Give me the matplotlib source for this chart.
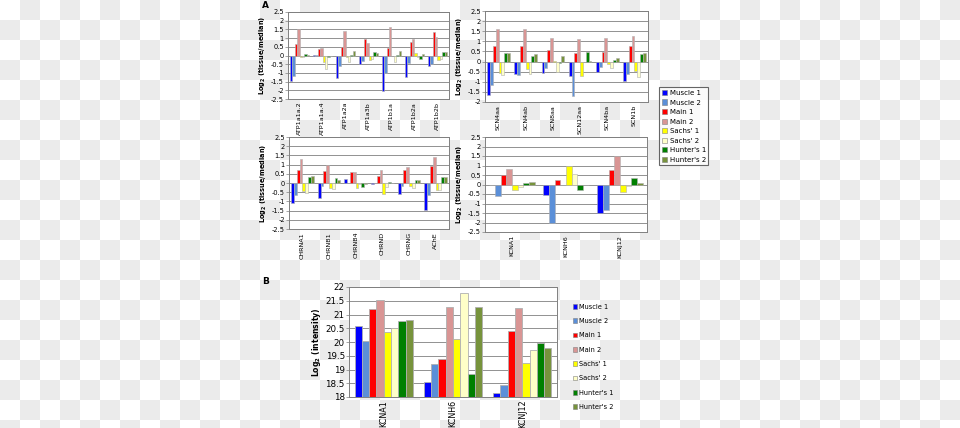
import numpy as np
import matplotlib
matplotlib.use("Agg")
import matplotlib.pyplot as plt
from matplotlib.patches import Patch

plt.rcParams["axes.unicode_minus"] = False
plt.rcParams["font.family"] = ["DejaVu Sans"]

# --- series names and colours ---
series = ["Muscle 1", "Muscle 2", "Main 1", "Main 2", "Sachs' 1", "Sachs' 2", "Hunter's 1", "Hunter's 2"]
colors = ["#0000ff", "#5b8fd8", "#ff0000", "#d99594", "#ffff00", "#ffffc8", "#008000", "#77933c"]

# --- panel A, top left: ATPases ---
atp_genes = ["ATP1a1a.2", "ATP1a1a.4", "ATP1a2a", "ATP1a3b", "ATP1b1a", "ATP1b2a", "ATP1b2b"]
atp_vals = [
    [-1.45, -1.20, 0.65, 1.50, -0.10, -0.10, 0.07, 0.05],
    [0.02, 0.05, 0.35, 0.45, -0.35, -0.80, -0.10, -0.05],
    [-1.30, -0.60, 0.50, 1.40, -0.10, -0.35, 0.05, 0.28],
    [-0.50, -0.30, 0.95, 0.70, -0.25, -0.20, 0.18, 0.12],
    [-2.05, -1.00, 0.42, 1.65, 0.00, -0.35, 0.05, 0.25],
    [-1.25, -0.45, 0.80, 0.92, 0.15, -0.10, -0.20, 0.10],
    [-0.60, -0.50, 1.35, 1.05, -0.25, -0.20, 0.20, 0.18],
]

# --- panel A, top right: sodium channels ---
scn_genes = ["SCN4aa", "SCN4ab", "SCN8aa", "SCN12aa", "SCN4ba", "SCN1b"]
scn_vals = [
    [-1.65, -1.15, 0.75, 1.60, -0.55, -0.65, 0.40, 0.42],
    [-0.60, -0.68, 0.78, 1.60, -0.35, -0.60, 0.28, 0.38],
    [-0.55, -0.30, 0.57, 1.15, 0.03, -0.50, -0.07, 0.25],
    [-0.70, -1.68, 0.43, 1.10, -0.70, 0.00, 0.48, 0.03],
    [-0.50, -0.25, 0.48, 1.15, -0.12, -0.30, 0.10, 0.18],
    [-0.98, -0.60, 0.78, 1.27, -0.45, -0.77, 0.35, 0.40],
]

# --- panel A, bottom left: acetylcholine receptors ---
chrn_genes = ["CHRNA1", "CHRNB1", "CHRNB4", "CHRND", "CHRNG", "AChE"]
chrn_vals = [
    [-1.10, -0.65, 0.70, 1.30, -0.45, -0.52, 0.35, 0.38],
    [-0.80, -0.17, 0.67, 1.00, -0.28, -0.35, 0.25, 0.15],
    [0.20, 0.02, 0.62, 0.60, -0.25, -0.05, -0.20, -0.05],
    [-0.05, 0.00, 0.38, 0.73, -0.60, -0.22, 0.05, 0.02],
    [-0.62, -0.15, 0.70, 0.85, -0.15, -0.25, 0.15, 0.15],
    [-1.48, -0.65, 0.92, 1.43, -0.38, -0.38, 0.30, 0.33],
]

# --- panel A, bottom right: potassium channels ---
kcn_genes = ["KCNA1", "KCNH6", "KCNJ12"]
kcn_vals = [
    [-0.05, -0.60, 0.48, 0.82, -0.30, -0.15, 0.07, 0.12],
    [-0.55, -2.05, 0.25, 0.00, 0.97, 0.55, -0.30, -0.02],
    [-1.48, -1.32, 0.75, 1.48, -0.40, -0.07, 0.33, 0.07],
]

# --- panel B: intensities ---
b_genes = ["KCNA1", "KCNH6", "KCNJ12"]
b_vals = [
    [20.59, 20.05, 21.21, 21.52, 20.38, 20.50, 20.78, 20.81],
    [18.53, 19.21, 19.38, 21.28, 20.12, 21.78, 18.84, 21.26],
    [18.16, 18.45, 20.41, 21.24, 19.24, 19.70, 19.96, 19.80],
]

W, H = 960, 428
fig = plt.figure(figsize=(W / 100, H / 100), dpi=100)
fig.patch.set_facecolor("white")

# transparency checkerboard behind everything
yy, xx = np.mgrid[0:H, 0:W]
checker = ((xx // 20 + yy // 20) % 2).astype(float)
bg = np.where(checker[..., None] == 1, 0.922, 1.0) * np.ones((H, W, 3))
fig.figimage(bg, xo=0, yo=0, origin="upper", zorder=-10)


def add_axes(l, r, t, b):
    return fig.add_axes([l / W, 1 - b / H, (r - l) / W, (b - t) / H])


def bar_panel(ax, genes, vals, ylim, step, ylabel, fs, xfs, lfs, bw=0.105, lw=0.4):
    data = np.array(vals)
    x = np.arange(len(genes))
    for i in range(len(series)):
        off = (i - 3.5) * bw
        ax.bar(x + off, data[:, i], width=bw, color=colors[i],
               edgecolor="#b0b0b0", linewidth=lw, zorder=3)
    ax.set_xlim(-0.5, len(genes) - 0.5)
    ax.set_ylim(*ylim)
    ticks = np.arange(ylim[0], ylim[1] + 0.01, step)
    ax.set_yticks(ticks)
    ax.set_yticklabels([f"{v:g}" for v in ticks])
    ax.set_facecolor("white")
    ax.grid(axis="y", color="#808080", linewidth=0.6, zorder=0)
    for s in ax.spines.values():
        s.set_color("#808080")
        s.set_linewidth(0.7)
    ax.set_xticks(x)
    ax.set_xticklabels(genes, rotation=90, fontsize=xfs)
    ax.tick_params(axis="x", length=0, pad=2)
    ax.tick_params(axis="y", labelsize=fs, length=2, width=0.5, color="#808080", pad=1)
    ax.set_ylabel(ylabel, fontsize=lfs, fontweight="bold", labelpad=2)


ylab_a = "Log$_\\mathbf{2}$ (tissue/median)"

ax1 = add_axes(288, 449, 12, 99)
bar_panel(ax1, atp_genes, atp_vals, (-2.5, 2.5), 0.5, ylab_a, 4.8, 4.6, 4.8)

ax2 = add_axes(485, 648, 11, 102)
bar_panel(ax2, scn_genes, scn_vals, (-2.0, 2.5), 0.5, ylab_a, 4.8, 4.6, 4.8)

ax3 = add_axes(289, 449, 137, 229)
bar_panel(ax3, chrn_genes, chrn_vals, (-2.5, 2.5), 0.5, ylab_a, 4.8, 4.6, 4.8)

ax4 = add_axes(485, 647, 137, 232)
bar_panel(ax4, kcn_genes, kcn_vals, (-2.5, 2.5), 0.5, ylab_a, 4.8, 4.6, 4.8)

ax5 = add_axes(349, 557, 287, 397)
bar_panel(ax5, b_genes, b_vals, (18, 22), 0.5, "Log$_\\mathbf{2}$ (intensity)", 6.3, 5.8, 5.6, lw=0.6)

handles = [Patch(facecolor=c, edgecolor="#808080", linewidth=0.4) for c in colors]

leg_a = fig.legend(handles, series, loc="upper left",
                   bbox_to_anchor=(656 / W, 1 - 84 / H), fontsize=5,
                   frameon=True, fancybox=False, handlelength=0.8, handleheight=0.8,
                   handletextpad=0.3, labelspacing=0.5, borderpad=0.35)
leg_a.get_frame().set_edgecolor("#404040")
leg_a.get_frame().set_linewidth(0.8)

fig.legend(handles, series, loc="upper left",
           bbox_to_anchor=(568 / W, 1 - 299 / H), fontsize=4.8,
           frameon=False, handlelength=0.7, handleheight=0.7,
           handletextpad=0.2, labelspacing=1.25, borderpad=0.2)

fig.text(262 / W, 1 - 5 / H, "A", fontsize=6.5, fontweight="bold", va="center")
fig.text(262 / W, 1 - 282 / H, "B", fontsize=6.5, fontweight="bold", va="center")

fig.savefig("out.png", dpi=100)
